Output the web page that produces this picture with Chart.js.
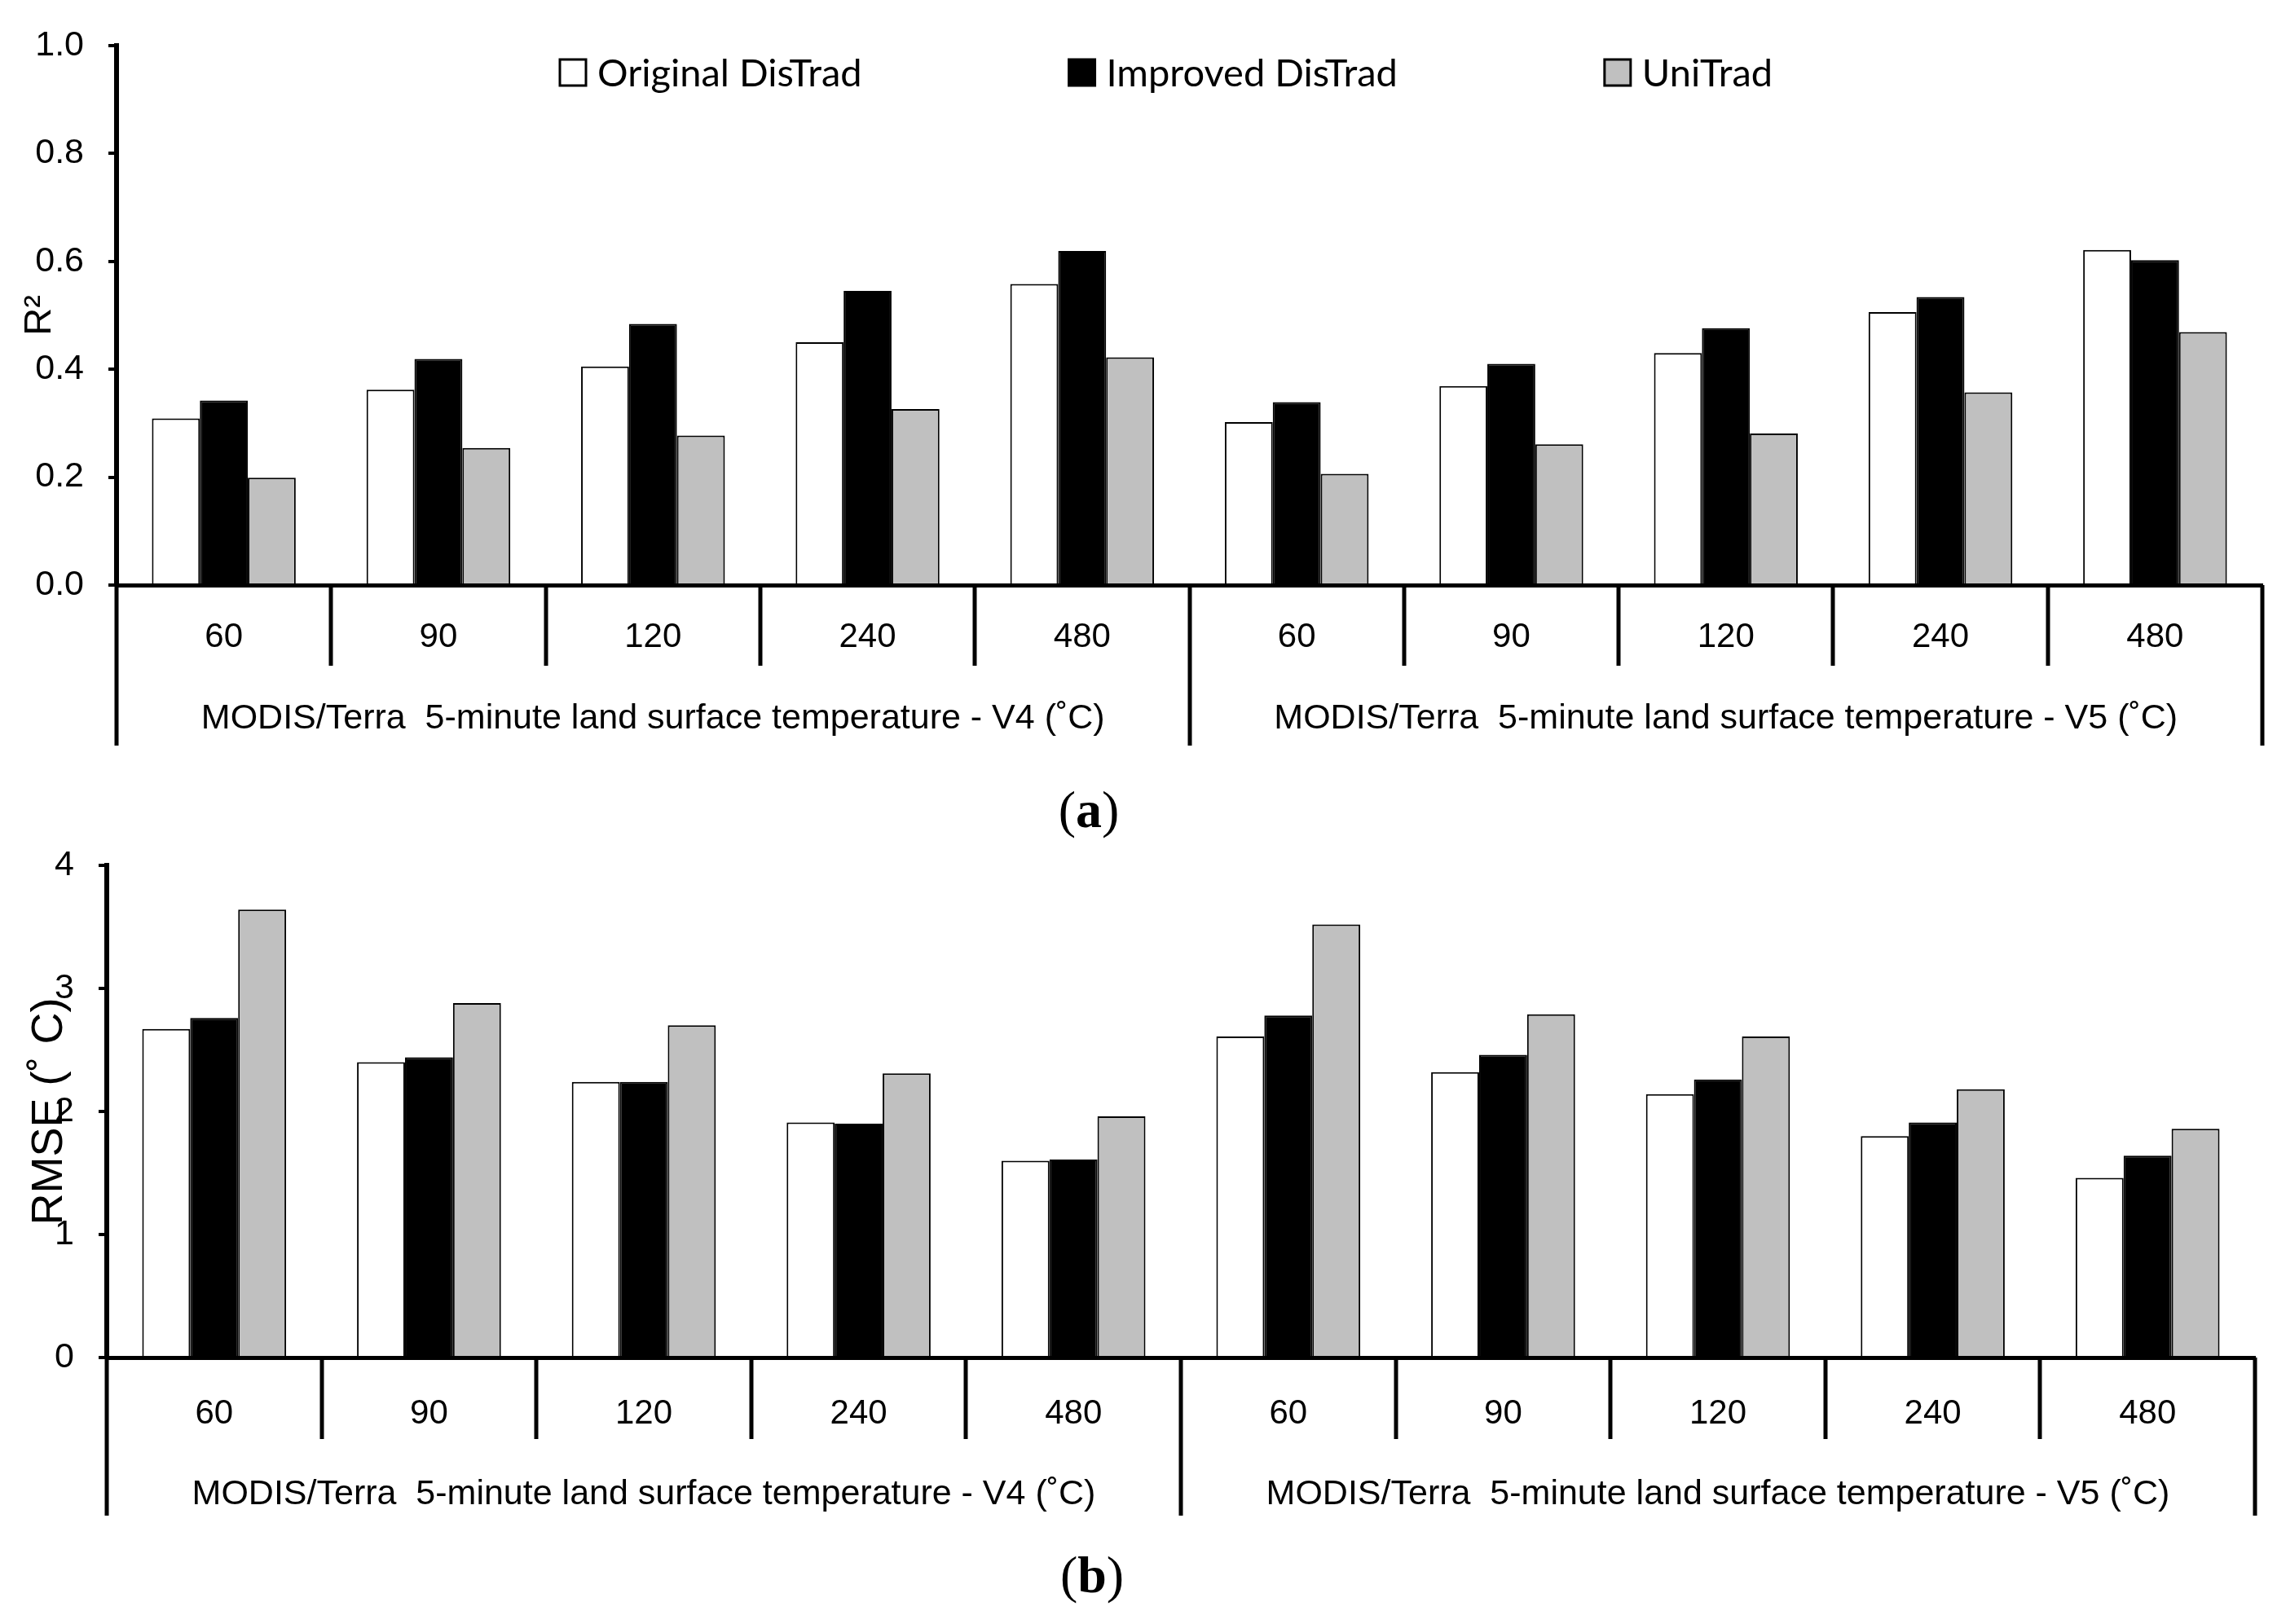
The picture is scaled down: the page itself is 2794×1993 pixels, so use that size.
<!DOCTYPE html>
<html lang="en">
<head>
<meta charset="utf-8">
<title>R2 e RMSE - DisTrad / UniTrad</title>
<script src="https://cdn.jsdelivr.net/npm/chart.js@4.4.1/dist/chart.umd.min.js"></script>
<style>
  html, body { margin: 0; padding: 0; background: #fff; }
  body { width: 2794px; height: 1993px; position: relative; overflow: hidden; }
  canvas { position: absolute; left: 0; }
  #grafico-r2 { top: 0; }
  #grafico-rmse { top: 1000px; }
  .painel { position: absolute; left: 0; text-align: center; color: #000;
            font-family: 'Liberation Serif', 'Times New Roman', serif; font-size: 64px; line-height: 64px; }
</style>
</head>
<body>
<canvas id="grafico-r2" width="2794" height="940"></canvas>
<canvas id="grafico-rmse" width="2794" height="880"></canvas>
<div class="painel" style="top:962px; width:2672px;">(<b>a</b>)</div>
<div class="painel" style="top:1901px; width:2680px;">(<b>b</b>)</div>
<script>
// Dados
const categorias = ['60', '90', '120', '240', '480', '60', '90', '120', '240', '480'];
const grupos = [
  'MODIS/Terra  5-minute land surface temperature - V4 (˚C)',
  'MODIS/Terra  5-minute land surface temperature - V5 (˚C)'
];
const porGrupo = 5;
const series = ['Original DisTrad', 'Improved DisTrad', 'UniTrad'];

// R² (a)
const r2Original = [0.309, 0.362, 0.405, 0.450, 0.558, 0.302, 0.369, 0.430, 0.506, 0.621];
const r2Improved = [0.342, 0.419, 0.484, 0.545, 0.619, 0.339, 0.410, 0.476, 0.534, 0.602];
const r2UniTrad  = [0.199, 0.254, 0.277, 0.326, 0.422, 0.206, 0.261, 0.281, 0.357, 0.469];

// RMSE (b)
const rmseOriginal = [2.67, 2.40, 2.24, 1.91, 1.60, 2.61, 2.32, 2.14, 1.80, 1.46];
const rmseImproved = [2.76, 2.44, 2.24, 1.90, 1.61, 2.78, 2.46, 2.26, 1.91, 1.64];
const rmseUniTrad  = [3.64, 2.88, 2.70, 2.31, 1.96, 3.52, 2.79, 2.61, 2.18, 1.86];

const cores = ['#ffffff', '#000000', '#c0c0c0'];
const fonteArial = "'Liberation Sans', Arial, sans-serif";

Chart.defaults.font.family = fonteArial;
Chart.defaults.color = '#000';

function montarDatasets(valores) {
  return valores.map((v, i) => ({
    label: series[i],
    data: v,
    backgroundColor: cores[i],
    borderColor: '#000',
    borderWidth: 2,
    categoryPercentage: 0.67,
    barPercentage: 1.0
  }));
}

// Separadores e rótulos dos grupos abaixo do eixo x
function pluginEixoAgrupado(op) {
  return {
    id: 'eixoAgrupado',
    afterDraw(chart) {
      const ctx = chart.ctx;
      const x = chart.scales.x;
      const n = categorias.length;
      const larg = x.width / n;
      const base = chart.chartArea.bottom;
      ctx.save();
      ctx.strokeStyle = '#000';
      ctx.lineWidth = 5;
      for (let i = 0; i <= n; i++) {
        const px = Math.round(x.left + i * larg);
        const longa = i % porGrupo === 0;
        ctx.beginPath();
        ctx.moveTo(px, base);
        ctx.lineTo(px, base + (longa ? op.longa : op.curta));
        ctx.stroke();
      }
      ctx.fillStyle = '#000';
      ctx.font = '43px ' + fonteArial;
      ctx.textAlign = 'center';
      ctx.textBaseline = 'middle';
      grupos.forEach((g, j) => {
        const cx = x.left + (j + 0.5) * porGrupo * larg;
        ctx.fillText(g, cx, base + op.rotuloY);
      });
      ctx.restore();
    }
  };
}

// Legenda dentro da área do gráfico (a)
const pluginLegenda = {
  id: 'legendaInterna',
  afterDraw(chart) {
    const ctx = chart.ctx;
    const caixa = 32;
    const yCentro = 89;
    let xAtual = chart.chartArea.left + 544;
    ctx.save();
    ctx.font = '47px Lato, "Open Sans", sans-serif';
    ctx.textBaseline = 'middle';
    ctx.textAlign = 'left';
    chart.data.datasets.forEach(ds => {
      ctx.fillStyle = ds.backgroundColor;
      ctx.fillRect(xAtual, yCentro - caixa / 2, caixa, caixa);
      ctx.lineWidth = 3;
      ctx.strokeStyle = '#000';
      ctx.strokeRect(xAtual, yCentro - caixa / 2, caixa, caixa);
      ctx.fillStyle = '#000';
      ctx.fillText(ds.label, xAtual + caixa + 14, yCentro + 2);
      xAtual += caixa + 14 + ctx.measureText(ds.label).width + 254;
    });
    ctx.restore();
  }
};

function opcoesGrafico(cfg) {
  return {
    responsive: false,
    animation: false,
    devicePixelRatio: 1,
    layout: { padding: cfg.padding },
    plugins: { legend: { display: false }, tooltip: { enabled: false } },
    scales: {
      x: {
        z: 1,
        grid: { display: false, drawTicks: false },
        border: { display: true, width: 5, color: '#000' },
        ticks: { font: { size: 42 }, color: '#000', padding: cfg.padRotulo, maxRotation: 0, autoSkip: false },
        afterFit: s => { s.height = cfg.alturaX; }
      },
      y: {
        min: 0,
        max: cfg.max,
        ticks: { stepSize: cfg.passo, font: { size: 43 }, color: '#000', padding: 30, callback: cfg.formato },
        grid: { drawOnChartArea: false, drawTicks: true, tickLength: 10, lineWidth: 4, color: '#000' },
        border: { display: true, width: 6, color: '#000' },
        title: { display: true, text: cfg.titulo, font: { size: cfg.tamTitulo }, color: '#000',
                 padding: { top: cfg.padTitulo, bottom: 0 } },
        afterFit: s => { s.width = cfg.larguraY; }
      }
    }
  };
}

// (a) R²
new Chart(document.getElementById('grafico-r2'), {
  type: 'bar',
  data: { labels: categorias, datasets: montarDatasets([r2Original, r2Improved, r2UniTrad]) },
  options: opcoesGrafico({
    padding: { top: 34, right: 18, left: 0, bottom: 0 },
    padRotulo: 39, alturaX: 222, larguraY: 143,
    max: 1, passo: 0.2, formato: v => Number(v).toFixed(1),
    titulo: 'R²', tamTitulo: 47, padTitulo: 21
  }),
  plugins: [pluginEixoAgrupado({ curta: 99, longa: 197, rotuloY: 164 }), pluginLegenda]
});

// (b) RMSE
new Chart(document.getElementById('grafico-rmse'), {
  type: 'bar',
  data: { labels: categorias, datasets: montarDatasets([rmseOriginal, rmseImproved, rmseUniTrad]) },
  options: opcoesGrafico({
    padding: { top: 62, right: 27, left: 0, bottom: 0 },
    padRotulo: 44, alturaX: 214, larguraY: 131,
    max: 4, passo: 1, formato: v => v,
    titulo: 'RMSE (˚ C)', tamTitulo: 54, padTitulo: 29
  }),
  plugins: [pluginEixoAgrupado({ curta: 100, longa: 194, rotuloY: 168 })]
});
</script>
</body>
</html>
